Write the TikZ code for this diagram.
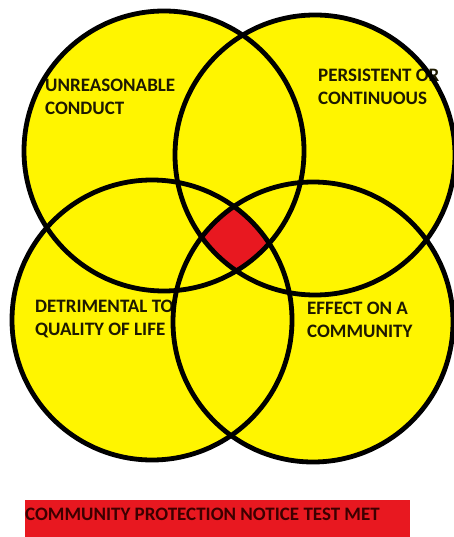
\documentclass[tikz,border=0pt]{standalone}
\usepackage{fontspec}
\setmainfont{Carlito}
\usetikzlibrary{positioning}

\definecolor{vennyellow}{RGB}{255,245,0}
\definecolor{vennred}{RGB}{232,24,32}
\definecolor{labeltext}{RGB}{30,25,0}

\begin{document}
\begin{tikzpicture}[x=1pt, y=-1pt,
            ring/.style={draw=black, line width=4.8pt},
            lbl/.style={anchor=base west, inner sep=0pt, align=left, text=labeltext,
                        font=\fontsize{19}{23}\selectfont\bfseries},
            banner/.style={fill=vennred, draw=none}]
            \useasboundingbox (0,0) rectangle (454,537);
            % circle centres
            \coordinate (tl) at (164,151);
            \coordinate (tr) at (315,155);
            \coordinate (bl) at (152,320);
            \coordinate (br) at (313,322);
            \foreach \c in {tl,tr,bl,br} { \fill[vennyellow] (\c) circle[radius=140pt]; }
            % area common to all four
            \begin{scope}
                \clip (tl) circle[radius=140pt];
                \clip (tr) circle[radius=140pt];
                \clip (bl) circle[radius=140pt];
                \fill[vennred] (br) circle[radius=140pt];
            \end{scope}
            \node[lbl] (unreas) at (45,115) {UNREASONABLE\\CONDUCT};
            \node[lbl] (persist) at (318,105) {PERSISTENT OR\\CONTINUOUS};
            \node[lbl] (detr) at (35,335) {DETRIMENTAL TO\\QUALITY OF LIFE};
            \node[lbl] (effect) at (307,337) {EFFECT ON A\\COMMUNITY};
            \foreach \c in {tl,tr,bl,br} { \draw[ring] (\c) circle[radius=140pt]; }
            \fill[banner] (25,500) rectangle (410,537);
            \node[lbl, text={rgb,255:red,60;green,0;blue,0}] (cpn) at (25,520) {COMMUNITY PROTECTION NOTICE TEST MET};
        \end{tikzpicture}
\end{document}
